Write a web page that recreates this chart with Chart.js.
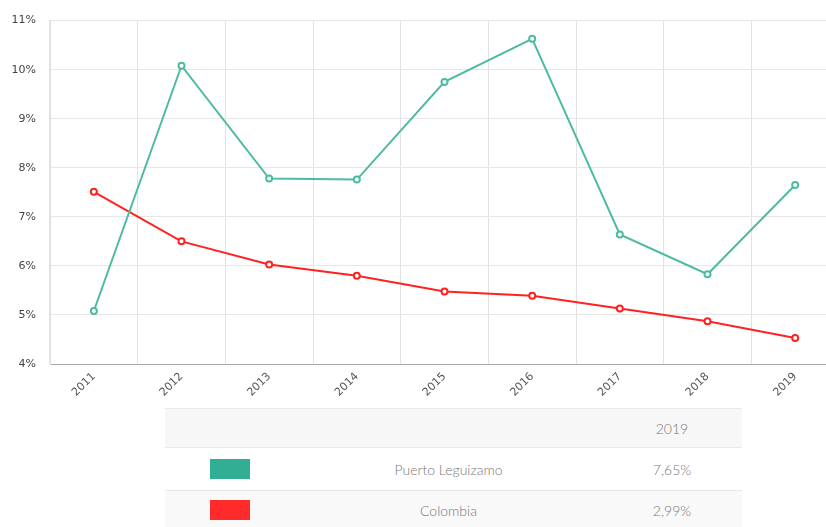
<!DOCTYPE html>
<html>
<head>
<meta charset="utf-8">
<script src="https://cdn.jsdelivr.net/npm/chart.js@4"></script>
<style>
  html, body { margin: 0; padding: 0; background: #fff; overflow: hidden; }
  #wrap { position: relative; width: 845px; height: 400px; }
  table.legend {
    position: absolute; left: 165px; top: 408px; width: 577px;
    border-collapse: collapse; font-family: "Lato", sans-serif; font-weight: 300;
    font-size: 14px; color: #777;
  }
  table.legend td { border-top: 1px solid #e8e8e8; text-align: center; padding: 0; }
  table.legend tr.head td { background: #f7f7f7; height: 38px; }
  table.legend tr.row1 td { background: #fff; height: 42px; }
  table.legend tr.row2 td { background: #f9f9f9; height: 38px; }
  .sw { display: inline-block; width: 40px; height: 20px; vertical-align: middle; }
</style>
</head>
<body>
<div id="wrap"><canvas id="myChart" width="845" height="400"></canvas></div>
<table class="legend" id="legendTable"></table>
<script>
const years = ['2011', '2012', '2013', '2014', '2015', '2016', '2017', '2018', '2019'];
const puertoLeguizamo = [5.08, 10.08, 7.78, 7.76, 9.75, 10.63, 6.64, 5.83, 7.65];
const colombia = [7.51, 6.50, 6.03, 5.80, 5.48, 5.39, 5.13, 4.87, 4.53];
const seriesNames = ['Puerto Leguizamo', 'Colombia'];
const seriesColors = ['#4dbba2', '#ff2222'];
const swatchColors = ['#31ae94', '#ff2a2a'];
const tableYear = '2019';
const tableValues = ['7,65%', '2,99%'];

document.addEventListener('DOMContentLoaded', function() {
    const ctx = document.getElementById('myChart').getContext('2d');

    function lineSet(label, data, color) {
        return {
            label: label,
            data: data,
            borderColor: color,
            backgroundColor: '#fff',
            borderWidth: 2,
            pointRadius: 3,
            pointBorderWidth: 2,
            pointBackgroundColor: '#fff',
            pointBorderColor: color,
            tension: 0
        };
    }

    new Chart(ctx, {
        type: 'line',
        data: {
            labels: years,
            datasets: [
                lineSet(seriesNames[0], puertoLeguizamo, seriesColors[0]),
                lineSet(seriesNames[1], colombia, seriesColors[1])
            ]
        },
        options: {
            responsive: false,
            animation: false,
            layout: { padding: { top: 16, left: 0, right: 0 } },
            plugins: { legend: { display: false }, tooltip: { enabled: false } },
            scales: {
                x: {
                    offset: true,
                    grid: { offset: true, color: '#e2e2e2', drawTicks: false },
                    border: { color: '#a8a8a8' },
                    ticks: {
                        minRotation: 45, maxRotation: 45, padding: 6,
                        color: '#555', font: { family: 'DejaVu Sans', size: 11 }
                    },
                    afterFit: function(scale) { scale.height = 36; }
                },
                y: {
                    min: 4, max: 11,
                    grid: { color: '#e6e6e6', drawTicks: false },
                    border: { color: '#e0e0e0' },
                    ticks: {
                        stepSize: 1, padding: 14,
                        color: '#444', font: { family: 'DejaVu Sans', size: 11 },
                        callback: function(v) { return v + '%'; }
                    },
                    afterFit: function(scale) { scale.width = 50; }
                }
            }
        }
    });

    // legend table with last-year values
    const table = document.getElementById('legendTable');
    let html = '<tr class="head"><td style="width:130px"></td><td></td><td style="width:140px">' + tableYear + '</td></tr>';
    seriesNames.forEach(function(name, i) {
        html += '<tr class="row' + (i + 1) + '"><td><span class="sw" style="background:' + swatchColors[i] + '"></span></td>' +
            '<td>' + name + '</td><td>' + tableValues[i] + '</td></tr>';
    });
    table.innerHTML = html;
});
</script>
</body>
</html>
